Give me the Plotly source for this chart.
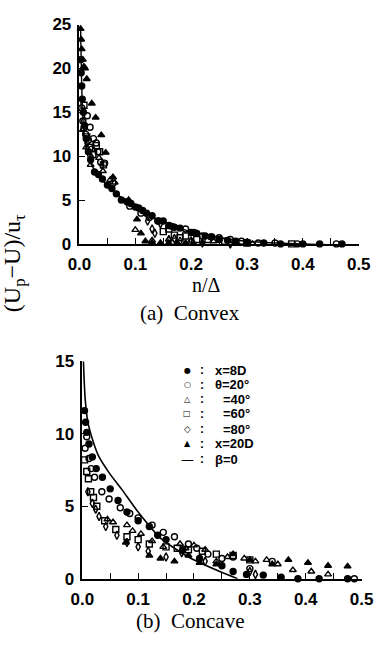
import plotly.graph_objects as go

W, H = 382, 646

# ---------------- data: (a) Convex ----------------
cvx_x8d_x = [0.002, 0.003, 0.004, 0.005, 0.007, 0.009, 0.012, 0.016, 0.02, 0.027, 0.034, 0.041, 0.05, 0.058, 0.066,
             0.075, 0.085, 0.092, 0.1, 0.106, 0.113, 0.12, 0.13, 0.142, 0.15, 0.16, 0.17, 0.18, 0.2, 0.21,
             0.225, 0.237, 0.25, 0.265, 0.28, 0.3, 0.33, 0.36, 0.4, 0.43, 0.47]
cvx_x8d_y = [21.0, 19.5, 18.0, 16.5, 15.0, 13.5, 12.0, 10.5, 9.6, 8.2, 7.9, 7.4, 6.7, 6.3, 5.7,
             5.0, 4.8, 4.6, 4.2, 4.1, 3.8, 3.5, 3.2, 2.6, 2.6, 2.1, 1.9, 1.8, 1.3, 1.2,
             0.9, 0.8, 0.5, 0.4, 0.3, 0.2, 0.1, 0.0, 0.0, 0.0, 0.0]
cvx_t20_x = [0.004, 0.006, 0.008, 0.011, 0.014, 0.016, 0.019, 0.022, 0.025, 0.03, 0.033, 0.038, 0.045, 0.06,
             0.09, 0.11, 0.125, 0.14, 0.165, 0.19, 0.205, 0.22, 0.235, 0.25, 0.27, 0.29, 0.32, 0.35, 0.39, 0.46]
cvx_t20_y = [15.5, 14.0, 13.2, 12.5, 14.6, 11.8, 13.3, 10.8, 12.0, 11.5, 10.5, 9.3, 9.2, 6.9,
             4.3, 3.5, 3.0, 2.6, 2.0, 1.7, 1.3, 0.9, 0.8, 0.7, 0.5, 0.3, 0.1, 0.1, 0.0, 0.0]
cvx_t40_x = [0.006, 0.012, 0.02, 0.035, 0.042, 0.055, 0.063, 0.1, 0.13, 0.16, 0.2, 0.24, 0.28, 0.31]
cvx_t40_y = [13.0, 11.0, 9.0, 9.8, 8.3, 7.3, 7.0, 1.6, 0.4, 0.5, 0.4, 0.3, 0.1, 0.0]
cvx_t60_x = [0.008, 0.013, 0.018, 0.024, 0.03, 0.036, 0.043, 0.15, 0.16, 0.17, 0.18, 0.19, 0.21, 0.23, 0.26, 0.3, 0.38]
cvx_t60_y = [15.8, 12.2, 11.0, 10.2, 11.2, 10.5, 9.0, 1.4, 1.7, 1.0, 0.7, 0.9, 0.5, 0.5, 0.3, 0.1, 0.0]
cvx_t80_x = [0.007, 0.014, 0.022, 0.04, 0.122, 0.13, 0.135, 0.145, 0.16, 0.17, 0.18, 0.2, 0.22, 0.27]
cvx_t80_y = [14.0, 11.5, 9.8, 9.0, 2.6, 1.7, 1.2, 2.3, 0.5, 0.6, 0.3, 0.3, 0.1, 0.0]
cvx_x20d_x = [0.002, 0.003, 0.004, 0.006, 0.008, 0.01, 0.013, 0.022, 0.029, 0.039, 0.047, 0.06, 0.088,
              0.103, 0.11, 0.118, 0.13, 0.145, 0.16, 0.175, 0.19, 0.205, 0.22]
cvx_x20d_y = [24.5, 23.3, 22.2, 21.0, 20.2, 20.0, 18.8, 16.0, 14.4, 12.4, 10.4, 7.6, 5.0,
              2.8, 1.2, 0.3, 0.15, 0.1, 0.1, 0.1, 0.1, 0.0, 0.0]
cvx_fit_x = [0.002, 0.004, 0.007, 0.01, 0.015, 0.02, 0.03, 0.04, 0.05, 0.06, 0.08, 0.1, 0.12,
             0.15, 0.18, 0.2, 0.25, 0.3, 0.35, 0.4, 0.45, 0.48]
cvx_fit_y = [24.5, 18.0, 13.5, 11.5, 10.0, 9.2, 8.1, 7.3, 6.7, 6.1, 5.0, 4.1, 3.4,
             2.5, 1.8, 1.4, 0.7, 0.3, 0.1, 0.0, -0.1, -0.1]

# ---------------- data: (b) Concave ----------------
ccv_x8d_x = [0.004, 0.006, 0.008, 0.012, 0.018, 0.025, 0.036, 0.05, 0.064, 0.08, 0.1, 0.12, 0.135, 0.15,
             0.18, 0.21, 0.25, 0.27, 0.294, 0.324, 0.356, 0.386, 0.424, 0.475]
ccv_x8d_y = [11.6, 10.8, 10.1, 9.3, 8.4, 7.6, 7.0, 6.2, 5.4, 4.6, 4.0, 3.6, 3.0, 2.7,
             2.0, 1.4, 0.9, 0.5, 0.3, 0.25, 0.1, 0.0, 0.0, 0.0]
ccv_t20_x = [0.005, 0.008, 0.012, 0.016, 0.022, 0.035, 0.048, 0.068, 0.085, 0.1, 0.125, 0.145, 0.165,
             0.19, 0.205, 0.225, 0.25, 0.27, 0.3, 0.34, 0.487]
ccv_t20_y = [9.0, 9.8, 8.3, 7.6, 7.0, 6.0, 5.5, 4.9, 4.5, 4.2, 3.7, 3.2, 2.9, 2.4, 2.1, 1.7, 1.4, 1.5, 0.7, 1.2, 0.0]
ccv_t40_x = [0.045, 0.055, 0.08, 0.09, 0.105, 0.125, 0.145, 0.175, 0.185, 0.2, 0.22, 0.24, 0.26,
             0.29, 0.31, 0.33, 0.35, 0.377, 0.41, 0.44]
ccv_t40_y = [4.1, 3.9, 3.7, 3.3, 3.1, 2.6, 2.2, 2.4, 2.1, 2.3, 2.0, 1.2, 1.5,
             1.4, 1.2, 1.3, 1.0, 0.6, 0.5, 0.3]
ccv_t60_x = [0.004, 0.008, 0.011, 0.015, 0.02, 0.026, 0.04, 0.06, 0.08, 0.1, 0.12, 0.15, 0.17,
             0.19, 0.215, 0.24, 0.27, 0.3]
ccv_t60_y = [8.2, 7.4, 6.9, 6.0, 5.6, 5.0, 4.0, 3.4, 2.9, 2.7, 2.4, 2.2, 2.1,
             2.0, 1.9, 1.7, 1.6, 1.3]
ccv_t80_x = [0.01, 0.018, 0.024, 0.03, 0.042, 0.062, 0.08, 0.1, 0.118, 0.15, 0.178, 0.22, 0.3, 0.31]
ccv_t80_y = [6.0, 5.2, 4.8, 4.3, 3.6, 3.0, 2.5, 2.2, 1.9, 1.5, 1.8, 1.2, 0.5, 0.3]
ccv_x20d_x = [0.078, 0.12, 0.14, 0.165, 0.19, 0.21, 0.24, 0.27, 0.3, 0.34, 0.369, 0.404, 0.44, 0.475]
ccv_x20d_y = [2.5, 1.6, 1.4, 1.2, 1.6, 1.1, 1.0, 1.7, 1.3, 1.0, 1.3, 1.1, 0.9, 0.85]
ccv_beta_x = [0.002, 0.005, 0.01, 0.02, 0.03, 0.05, 0.07, 0.1, 0.14, 0.19, 0.24, 0.278]
ccv_beta_y = [15.0, 12.5, 10.8, 9.4, 8.4, 7.2, 6.2, 4.6, 2.8, 1.5, 0.6, 0.0]

x_ticks = [0.0, 0.1, 0.2, 0.3, 0.4, 0.5]
x_tick_labels = ["0.0", "0.1", "0.2", "0.3", "0.4", "0.5"]
top_y_ticks = [0, 5, 10, 15, 20, 25]
bot_y_ticks = [0, 5, 10, 15]

legend_labels = ["x=8D", "\u03b8=20\u00b0", "=40\u00b0", "=60\u00b0", "=80\u00b0", "x=20D", "\u03b2=0"]
legend_symbols = ["\u25cf", "\u25cb", "\u25b3", "\u25a1", "\u25c7", "\u25b2", "\u2014"]

series = [
    ("circle", (cvx_x8d_x, cvx_x8d_y), (ccv_x8d_x, ccv_x8d_y)),
    ("circle-open", (cvx_t20_x, cvx_t20_y), (ccv_t20_x, ccv_t20_y)),
    ("triangle-up-open", (cvx_t40_x, cvx_t40_y), (ccv_t40_x, ccv_t40_y)),
    ("square-open", (cvx_t60_x, cvx_t60_y), (ccv_t60_x, ccv_t60_y)),
    ("diamond-tall-open", (cvx_t80_x, cvx_t80_y), (ccv_t80_x, ccv_t80_y)),
    ("triangle-up", (cvx_x20d_x, cvx_x20d_y), (ccv_x20d_x, ccv_x20d_y)),
]

fig = go.Figure()
for sym, (tx, ty), (bx, by) in series:
    for (xx, yy, xa, ya) in [(tx, ty, "x", "y"), (bx, by, "x2", "y2")]:
        fig.add_trace(go.Scatter(
            x=xx, y=yy, xaxis=xa, yaxis=ya, mode="markers", showlegend=False,
            cliponaxis=False,
            marker=dict(symbol=sym, size=6, color="black", line=dict(color="black", width=1.4))))

fig.add_trace(go.Scatter(x=cvx_fit_x, y=cvx_fit_y, xaxis="x", yaxis="y", mode="lines",
                         line=dict(color="black", width=1.4, shape="spline", smoothing=0.6),
                         showlegend=False, cliponaxis=False))
fig.add_trace(go.Scatter(x=ccv_beta_x, y=ccv_beta_y, xaxis="x2", yaxis="y2", mode="lines",
                         line=dict(color="black", width=1.6, shape="spline", smoothing=0.6),
                         showlegend=False, cliponaxis=False))


def px(v):
    return v / W


def py(v):
    return 1 - v / H


tickfont = dict(family="Liberation Sans, Arial", size=17, color="black", weight="bold")
axis_common = dict(showline=True, linecolor="black", linewidth=1.5, ticks="inside", ticklen=6,
                   tickcolor="black", tickwidth=1.3, showgrid=False, zeroline=False,
                   tickfont=tickfont)
minor_x = dict(dtick=0.05, ticks="inside", ticklen=6, tickcolor="black", tickwidth=1.3)

fig.update_layout(
    width=W, height=H, margin=dict(l=0, r=0, t=0, b=0),
    paper_bgcolor="white", plot_bgcolor="white",
    xaxis=dict(domain=[px(72), px(370)], range=[0, 0.5], anchor="y",
               tickvals=x_ticks, ticktext=x_tick_labels, minor=minor_x,
               ticklabelstandoff=4, **axis_common),
    yaxis=dict(domain=[py(242), py(16)], range=[0, 25], anchor="x",
               tickvals=top_y_ticks, ticklabelstandoff=3, **axis_common),
    xaxis2=dict(domain=[px(75), px(373)], range=[0, 0.5], anchor="y2",
                tickvals=x_ticks, ticktext=x_tick_labels, minor=minor_x,
                ticklabelstandoff=4, **axis_common),
    yaxis2=dict(domain=[py(587), py(363)], range=[0, 15], anchor="x2",
                tickvals=bot_y_ticks, ticklabelstandoff=3, **axis_common),
)

serif = "Liberation Serif, Times New Roman, serif"


def note(text, x, y, size, family=serif, xanchor="center", angle=0, weight="normal"):
    return dict(text=text, x=px(x), y=py(y), xref="paper", yref="paper", showarrow=False,
                xanchor=xanchor, yanchor="middle", textangle=angle,
                font=dict(family=family, size=size, color="black", weight=weight))


ann = [
    note("n/\u0394", 208, 284, 20),
    note("(a)  Convex", 190, 313, 21),
    note("(b)  Concave", 190, 631, 21),
    note("(U<sub>p</sub>\u2212U)/u<sub>\u03c4</sub>", 2, 262, 24, angle=-90),
]

leg_rows = [372, 387, 402, 417, 433, 448, 464]
leg_text_x = [215, 215, 223, 223, 223, 215, 215]
sym_sizes = [8, 8, 8, 8, 9, 8, 13]
sansb = "Liberation Sans, Arial"
for i, lab in enumerate(legend_labels):
    ann.append(note(legend_symbols[i], 187, leg_rows[i], sym_sizes[i], family="DejaVu Sans"))
    ann.append(note(":", 203, leg_rows[i], 12, family=sansb, weight="bold"))
    ann.append(note(lab, leg_text_x[i], leg_rows[i], 13, family=sansb, xanchor="left", weight="bold"))
fig.update_layout(annotations=ann)

fig.write_html("out.html")
